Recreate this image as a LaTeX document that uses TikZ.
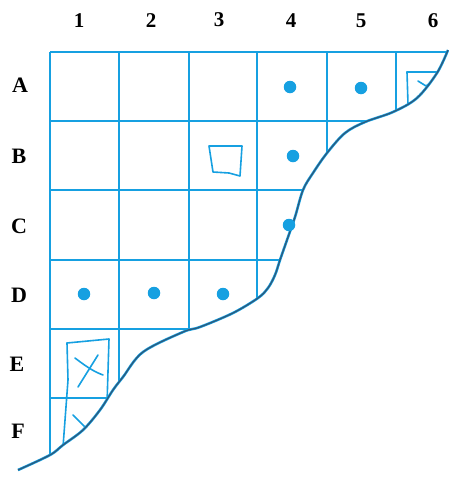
\documentclass[tikz,border=0pt]{standalone}
\usepackage{fontspec}
\setmainfont{Liberation Serif}
\definecolor{gblue}{RGB}{22,160,225}
\definecolor{cdark}{RGB}{45,90,125}
\begin{document}
\begin{tikzpicture}[x=1pt,y=-1pt,
  gridline/.style={gblue,line width=2pt},
  sketch/.style={gblue,line width=1.6pt,line cap=round,line join=round},
  dotmark/.style={circle,fill=gblue,inner sep=0pt,minimum size=12.5pt},
  collab/.style={font=\bfseries\fontsize{21}{24}\selectfont,inner sep=0pt},
  rowlab/.style={font=\bfseries\fontsize{22}{25}\selectfont,inner sep=0pt}]
\useasboundingbox (0,0) rectangle (449,477);
\def\edgepath{(448,50) (437,73) (417,98) (393,112) (365,122) (345,133) (327,153) (313,173) (303,190) (295,217) (287,240) (280,260) (275,275) (268,288) (258,298) (233,313) (200,327) (183,332) (143,352) (123,377) (113,390) (100,410) (83,430) (63,445) (50,455) (18,470)}
% grid clipped by the torn edge
\begin{scope}
\clip plot[smooth,tension=0.55] coordinates {\edgepath} -- (0,477) -- (0,0) -- (449,0) -- cycle;
\foreach \yy in {52,121,190,260,329,398} \draw[gridline] (50,\yy) -- (470,\yy);
\foreach \xx in {50,119,189,257,327,396} \draw[gridline] (\xx,52) -- (\xx,480);
% sketches
\draw[sketch] (407,72) -- (440,72);
\draw[sketch] (407,72) -- (408,104);
\draw[sketch] (418,81) -- (426,86) -- (434,80);
\draw[sketch] (67,343) -- (109,339) -- (107,404);
\draw[sketch] (67,343) -- (68,380) -- (63,447);
\draw[sketch] (75,358) .. controls (88,368) and (95,372) .. (103,375);
\draw[sketch] (98,355) -- (78,387);
\draw[sketch] (73,415) -- (88,430);
\end{scope}
% torn edge
\draw[gblue,line width=2.6pt] plot[smooth,tension=0.55] coordinates {\edgepath};
\draw[cdark,line width=1.3pt] plot[smooth,tension=0.55] coordinates {\edgepath};
% square in B3
\draw[sketch] (209,146) -- (242,146) -- (240,176) -- (229,173) -- (213,172) -- cycle;
% dots
\node[dotmark] (a4) at (290,87) {};
\node[dotmark] (a5) at (361,88) {};
\node[dotmark] (b4) at (293,156) {};
\node[dotmark] (c4) at (289,225) {};
\node[dotmark] (d1) at (84,294) {};
\node[dotmark] (d2) at (154,293) {};
\node[dotmark] (d3) at (223,294) {};
% labels
\node[collab] (c1) at (79,21) {1};
\node[collab] (c2) at (151,21) {2};
\node[collab] (c3) at (219,20) {3};
\node[collab] (c4l) at (291,21) {4};
\node[collab] (c5) at (361,21) {5};
\node[collab] (c6) at (433,21) {6};
\node[rowlab] (ra) at (20,85) {A};
\node[rowlab] (rb) at (19,156) {B};
\node[rowlab] (rc) at (19,226) {C};
\node[rowlab] (rd) at (19,295) {D};
\node[rowlab] (re) at (17,364) {E};
\node[rowlab] (rf) at (18,431) {F};
\end{tikzpicture}
\end{document}
